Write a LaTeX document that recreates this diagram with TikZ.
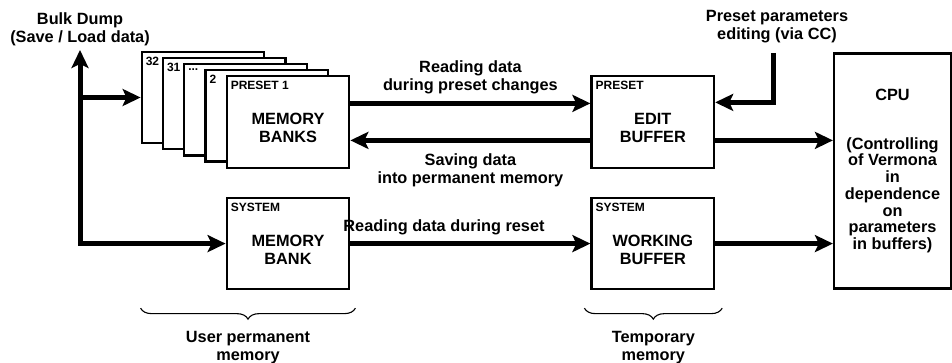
\documentclass[tikz,border=0pt]{standalone}
\usepackage{fontspec}
\setmainfont{Liberation Sans}
\usetikzlibrary{arrows.meta,positioning,calc,decorations.pathreplacing}
\tikzset{
  >=Stealth,
  font=\bfseries\fontsize{16.3}{18}\selectfont,
  blk/.style ={draw, line width=2.2pt, fill=white, minimum width=122.6pt, minimum height=91.5pt, inner sep=0pt},
  cpu/.style ={draw, line width=2.2pt, minimum width=117pt, minimum height=235pt, align=center, inner sep=0pt, font=\bfseries\fontsize{16.3}{16.7}\selectfont},
  tag/.style ={anchor=north west, inner sep=0pt, font=\bfseries\fontsize{12}{12}\selectfont},
  txt/.style ={align=center, inner sep=0pt},
  lbl/.style ={align=center, inner sep=0pt},
  arr/.style ={-{Stealth[length=18pt,width=17pt,inset=4pt]}, line width=5pt},
  darr/.style={{Stealth[length=18pt,width=17pt,inset=4pt]}-{Stealth[length=18pt,width=17pt,inset=4pt]}, line width=5pt},
  brc/.style ={decorate, decoration={brace, mirror, amplitude=11pt}, line width=1.1pt},
}

\begin{document}
\begin{tikzpicture}[x=1pt,y=1pt]
  \useasboundingbox (0,0) rectangle (952,363);

  % stack of preset banks, back to front
  \node[blk] (b32) at (203,265.5) {};
  \node[blk] (b31) at ([shift={(21.25,-6.1)}]b32.center) {};
  \node[blk] (bdots) at ([shift={(21.25,-6.1)}]b31.center) {};
  \node[blk] (b2) at ([shift={(21.25,-6.1)}]bdots.center) {};
  \node[blk] (b1) at ([shift={(21.25,-6.1)}]b2.center) {};
  \node[tag] (t32) at ([shift={(5,-6)}]b32.north west) {32};
  \node[tag] (t31) at ([shift={(5,-6)}]b31.north west) {31};
  \node[tag] (tdots) at ([shift={(5,-6)}]bdots.north west) {...};
  \node[tag] (t2) at ([shift={(5,-6)}]b2.north west) {2};
  \node[tag] (t1) at ([shift={(5,-6)}]b1.north west) {PRESET 1};
  \node[txt] (banks) at ([yshift=-6]b1.center) {MEMORY\\BANKS};

  \node[blk, right=240pt of b1] (edit) {};
  \node[tag] (tedit) at ([shift={(5,-6)}]edit.north west) {PRESET};
  \node[txt] (edittxt) at ([yshift=-6]edit.center) {EDIT\\BUFFER};

  \node[blk, below=28pt of b1] (sysbank) {};
  \node[tag] (tsys) at ([shift={(5,-6)}]sysbank.north west) {SYSTEM};
  \node[txt] (systxt) at ([yshift=-6]sysbank.center) {MEMORY\\BANK};

  \node[blk, below=28pt of edit] (work) {};
  \node[tag] (twork) at ([shift={(5,-6)}]work.north west) {SYSTEM};
  \node[txt] (worktxt) at ([yshift=-6]work.center) {WORKING\\BUFFER};

  \node[cpu] (cpu) at (892.5,192) {CPU\\[32pt](Controlling\\of Vermona\\in\\dependence\\on\\parameters\\in buffers)};

  % bulk dump line on the left
  \coordinate (dumpend) at (80,313);
  \node[lbl, above=4pt of dumpend] (dump) {Bulk Dump\\(Save / Load data)};
  \coordinate (corner) at (dumpend |- sysbank.west);
  \coordinate (branch) at (dumpend |- b32.west);
  \draw[darr] (dumpend) -- (corner) -- (sysbank.west);
  \draw[arr] (branch) -- (b32.west);

  \draw[arr] ([yshift=18.5]b1.east) -- node[lbl, above=6.5pt] (rdlbl) {Reading data\\during preset changes} ([yshift=18.5]edit.west);
  \draw[arr] ([yshift=-18.5]edit.west) -- node[lbl, below=11pt] (svlbl) {Saving data\\into permanent memory} ([yshift=-18.5]b1.east);
  \draw[arr] (sysbank) -- node[lbl, above=6.5pt, pos=0.39] (rrlbl) {Reading data during reset} (work);

  \coordinate (ccin) at (773,310);
  \node[lbl, above=10pt of ccin, xshift=4pt] (cclbl) {Preset parameters\\editing (via CC)};
  \draw[arr] (ccin) |- ([yshift=19.5]edit.east);

  \draw[arr] ([yshift=-18.5]edit.east) -- ([yshift=-18.5]edit.east -| cpu.west);
  \draw[arr] (work) -- (work -| cpu.west);

  % braces under the memories
  \coordinate (ul) at ($(b32.west |- sysbank.south)+(0,-17.7)$);
  \coordinate (ur) at ($(sysbank.south east)+(5,-17.7)$);
  \coordinate (tl) at ($(work.south west)+(-6,-17.7)$);
  \coordinate (tr) at ($(work.south east)+(7,-17.7)$);
  \draw[brc] (ul) -- (ur) node[midway, below=23pt, lbl] (userlbl) {User permanent\\memory};
  \draw[brc] (tl) -- (tr) node[midway, below=23pt, lbl] (templbl) {Temporary\\memory};
\end{tikzpicture}
\end{document}
